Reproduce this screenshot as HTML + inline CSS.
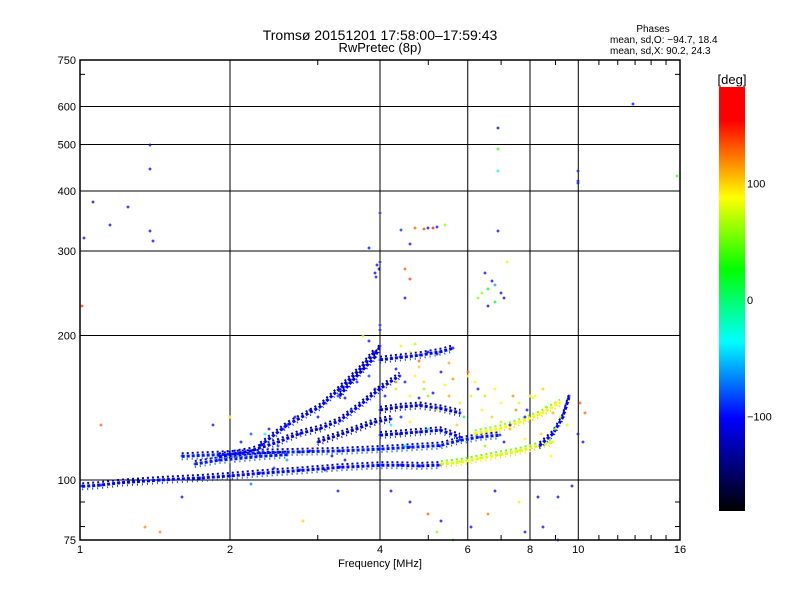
<!DOCTYPE html>
<html><head><meta charset="utf-8"><style>
body{margin:0;background:#fff}
svg{display:block;font-family:"Liberation Sans","DejaVu Sans",sans-serif}
</style></head><body>
<svg id="chart" width="800" height="600" xmlns="http://www.w3.org/2000/svg">
<rect width="800" height="600" fill="#fff"/>
<text x="380" y="40" font-size="14" text-anchor="middle">Tromsø 20151201 17:58:00–17:59:43</text>
<text x="380" y="52" font-size="13" text-anchor="middle">RwPretec (8p)</text>
<text x="653" y="32" font-size="10" text-anchor="middle">Phases</text>
<text x="610" y="43" font-size="10">mean, sd,O: −94.7, 18.4</text>
<text x="610" y="54" font-size="10">mean, sd,X:  90.2, 24.3</text>
<g id="grid"></g>
<g id="marks"></g>
<rect x="80" y="60" width="600" height="480" fill="none" stroke="#000" stroke-width="1.5"/>
<g id="axes"></g>
<text x="560" y="0" font-size="11" transform="translate(48,300) rotate(-90)" text-anchor="middle">Stationary phase Virtual Height [km]</text>
<text x="380" y="567" font-size="11" text-anchor="middle">Frequency [MHz]</text>
<defs><linearGradient id="cb" x1="0" y1="1" x2="0" y2="0">
<stop offset="0" stop-color="#000"/><stop offset="0.22" stop-color="#0000ff"/><stop offset="0.40" stop-color="#00ffff"/><stop offset="0.57" stop-color="#00ff00"/><stop offset="0.74" stop-color="#ffff00"/><stop offset="0.92" stop-color="#ff0000"/><stop offset="1" stop-color="#ff0000"/></linearGradient></defs>
<rect x="719" y="87" width="26" height="424" fill="url(#cb)"/>
<text x="732" y="84" font-size="13" text-anchor="middle">[deg]</text>
<g id="cbticks"></g>
</svg>
<script>
const xTicks=[1,2,4,6,8,10,16];
const yTicks=[75,100,200,300,400,500,600,750];
const cbTicks=[100,0,-100];
// traces: frequency (MHz), height (km), phase (deg)
const t1F=[1.01,1.1,1.2,1.45,1.74,2.0,2.3,2.76,3.32,4.0,4.4,4.81,5.3];
const t1H=[97,97.6,98.7,100,101,102,103.3,104.7,106.3,107.3,107.3,107,107.5];
const t1P=-100;
const t1bF=[5.3,5.8,6.35,6.96,7.62,8.36,8.9];
const t1bH=[108,109,111,113,115,118,120];
const t1bP=80;
const t2F=[1.6,1.9,2.3,2.76,3.32,4.0,4.6,5.28,5.8,6.35,6.96];
const t2H=[112,113,114,114.5,115,116,117,118,121,123,124];
const t2P=-95;
const t3F=[1.9,2.2,2.5,2.76,3.03,3.32,3.64,4.0,4.38];
const t3H=[112,115,120,125,128,133,143,155,165];
const t3P=-105;
const t4F=[2.3,2.6,3.03,3.32,3.64,3.9];
const t4H=[118,130,142,155,170,185];
const t4P=-100;
const t5F=[4.0,4.38,4.81,5.28,5.6];
const t5H=[178,180,182,185,188];
const t5P=-100;
const t6F=[4.0,4.4,4.81,5.28,5.8];
const t6H=[140,142,143,141,138];
const t6P=-110;
const t7F=[4.0,4.38,4.81,5.28,5.79];
const t7H=[124,125,126,127,123];
const t7P=-100;
const t8F=[6.2,6.96,7.62,8.36,9.2];
const t8H=[125,128,132,137,145];
const t8P=85;
const t9F=[8.36,8.9,9.3,9.6];
const t9H=[118,125,135,150];
const t9P=-100;
const t10F=[1.7,1.9,2.1,2.3,2.6];
const t10H=[108,110,111,112,113];
const t10P=-95;
const t11F=[3.32,3.5,3.7,3.9,4.0];
const t11H=[150,160,170,180,190];
const t11P=-110;
const t12F=[3.0,3.3,3.6,3.9,4.2];
const t12H=[120,124,128,132,134];
const t12P=-115;
const scatF=[1.06,1.25,1.15,1.02,1.38,1.4,1.38,1.38,1.01,1.1,1.35,1.45,2.0,1.85,2.8,3.9,3.95,3.98,4.0,3.92,4.0,3.8,4.4,4.7,4.9,5.0,5.1,5.2,5.4,4.6,4.5,4.6,4.5,6.5,6.7,6.6,6.8,7.0,7.1,6.4,6.3,6.6,6.8,7.2,6.9,6.9,6.9,6.9,12.9,15.8,10,10,10,4.0,3.7,4.0,3.8,4.4,4.6,4.7,5.0,5.2,4.8,4.2,4.6,5.0,5.3,5.6,5.2,6.1,6.6,6.8,7.6,7.8,8.3,8.5,9.1,9.7,9.1,3.3,1.6,4.3,4.6,4.9,5.2,5.5,5.8,6.2,6.5,7.0,7.5,8.0,8.5,9.0,10.1,10.3,10.0,10.2,9.5,8.8,6.0,5.5,6.3,7.3,7.8,5.9,5.0,4.5,5.5];
const scatH=[380,370,340,320,330,315,445,500,230,130,80,78,135,130,82,270,280,275,285,265,360,305,332,335,333,335,335,337,340,310,275,262,240,270,260,250,255,245,240,245,240,230,235,285,330,540,490,440,607,430,440,415,420,210,200,205,195,190,185,192,185,183,177,95,90,85,82,75,78,80,85,95,90,78,92,80,92,97,75,95,92,160,150,155,140,150,145,160,150,145,140,150,155,145,145,138,125,120,130,112,168,175,155,130,135,135,128,118,120];
const scatP=[-110,-100,-100,-100,-100,-100,-100,-100,140,130,120,120,100,-100,100,-110,-105,-100,-110,-100,-100,-100,-90,130,140,-100,150,-100,60,-100,130,140,-100,-100,-100,20,-60,-100,-110,60,60,-100,20,80,-100,-110,40,-30,-100,40,-100,-110,-100,-100,80,-110,-100,80,90,70,-110,-120,130,-100,-100,130,-100,40,60,-100,120,-110,80,-100,-110,-100,-100,-110,-100,-100,-100,120,90,60,90,110,80,90,70,90,120,100,100,90,130,130,-110,-100,80,90,130,110,-100,-100,-100,0,0,-10,100];
const scat2F=[2.1,2.2,2.4,2.5,2.7,2.9,3.1,3.4,3.6,3.8,2.6,2.9,3.2,3.5,2.35,2.55,3.0,3.3,4.1,4.3,4.5,4.7,4.9,5.1,5.4,5.6,4.2,4.4,4.6,4.8,5.0,6.1,6.4,6.7,7.0,7.3,7.6,7.9,8.2,8.6,8.9,9.2,6.5,7.1,7.8,8.4,9.0,6.8,7.4,8.1,5.7,6.0,3.9,4.3,4.8,5.3,3.1,3.4,2.2,2.45];
const scat2H=[120,125,128,118,135,140,145,148,160,165,110,115,112,140,125,128,135,150,150,155,160,165,160,152,158,162,130,135,132,148,150,150,140,135,132,128,145,140,150,142,138,135,118,120,122,125,128,155,150,148,130,165,155,170,172,168,105,110,98,106];
const scat2P=[-100,-80,-110,-90,-100,-120,-100,-110,-100,-90,-60,-100,-120,-80,-40,-100,-110,-90,-100,70,-100,90,100,-110,80,120,-40,-100,90,-100,60,80,90,100,70,110,80,-100,90,60,110,80,60,-100,90,100,70,90,120,80,100,90,-100,-110,100,-100,-130,-120,-70,-90];

const NS="http://www.w3.org/2000/svg";
const xs=f=>80+150*Math.log2(f);
const ys=h=>540-480*Math.log10(h/75);
const stops=[[-181,[0,0,0]],[-101,[0,0,255]],[-37,[0,255,255]],[26,[0,255,0]],[88,[255,255,0]],[155,[255,0,0]],[190,[255,0,0]]];
function col(v){for(let i=0;i<stops.length-1;i++){const a=stops[i],b=stops[i+1];if(v<=b[0]){const t=Math.max(0,(v-a[0])/(b[0]-a[0]));const c=a[1].map((x,k)=>Math.round(x+(b[1][k]-x)*t));return `rgb(${c})`;}}return "rgb(255,0,0)";}
function mk(tag,attrs,parent){const e=document.createElementNS(NS,tag);for(const k in attrs)e.setAttribute(k,attrs[k]);parent.appendChild(e);return e;}
const grid=document.getElementById('grid'),axes=document.getElementById('axes'),marks=document.getElementById('marks'),cbg=document.getElementById('cbticks');
xTicks.forEach(f=>{const x=xs(f);
 if(f>1&&f<16){const l=mk('line',{x1:x,x2:x,y1:60,y2:540,stroke:'#000','stroke-width':1},grid);
 
 }
 const t=mk('text',{x:x,y:553,'font-size':11,'text-anchor':'middle'},axes);t.textContent=f;
 
 });
yTicks.forEach(h=>{const y=ys(h);
 if(h>75&&h<750){const l=mk('line',{x1:80,x2:680,y1:y,y2:y,stroke:'#000','stroke-width':1},grid);
 
 }
 const t=mk('text',{x:76,y:y+4,'font-size':11,'text-anchor':'end'},axes);t.textContent=h;
 
 });
[3,5,7,9,11,12,13,14,15].forEach(f=>{const x=xs(f);
 [[540,535],[60,65]].forEach(p=>{const l=mk('line',{x1:x,x2:x,y1:p[0],y2:p[1],stroke:'#000'},axes);
 
 });});
[80,90,700].forEach(h=>{const y=ys(h);
 [[80,85],[680,675]].forEach(p=>{const l=mk('line',{x1:p[0],x2:p[1],y1:y,y2:y,stroke:'#000'},axes);
 
 });});
cbTicks.forEach(v=>{const y=300-1.165*v;
 const t=mk('text',{x:747,y:y+4,'font-size':11},cbg);t.textContent=v<0?'−'+(-v):v;
 
 });
function plus(f,h,p){const x=Math.round(xs(f)),y=Math.round(ys(h));
 const e=mk('path',{d:`M${x-1.5} ${y}H${x+1.5}M${x} ${y-1.5}V${y+1.5}`,stroke:col(p),'stroke-width':1},marks);
 
 }
function trace(F,H,P,name){
 [[-3,-25,'2 3'],[3,15,'1 4'],[0,0,'3 2']].forEach(o=>{
 const pts=F.map((f,i)=>xs(f).toFixed(1)+','+(ys(H[i])+o[0]).toFixed(1)).join(' ');
 const pl=mk('polyline',{points:pts,fill:'none',stroke:col(P+o[1]),'stroke-width':o[0]===0?3:2,'stroke-dasharray':o[2],'stroke-linejoin':'round'},marks);
 
 });
 F.forEach((f,i)=>plus(f,H[i],P));}
trace(t1F,t1H,t1P,'trace-o-lower');
trace(t1bF,t1bH,t1bP,'trace-x-lower');
trace(t2F,t2H,t2P,'trace-2');
trace(t3F,t3H,t3P,'trace-3');
trace(t4F,t4H,t4P,'trace-4');
trace(t5F,t5H,t5P,'trace-upper');
trace(t6F,t6H,t6P,'trace-6');
trace(t7F,t7H,t7P,'trace-7');
trace(t8F,t8H,t8P,'trace-x-upper');
trace(t9F,t9H,t9P,'trace-9');
trace(t10F,t10H,t10P,'trace-10');
trace(t11F,t11H,t11P,'trace-11');
trace(t12F,t12H,t12P,'trace-12');
scatF.forEach((f,i)=>plus(f,scatH[i],scatP[i]));
scat2F.forEach((f,i)=>plus(f,scat2H[i],scat2P[i]));
</script>
</body></html>
